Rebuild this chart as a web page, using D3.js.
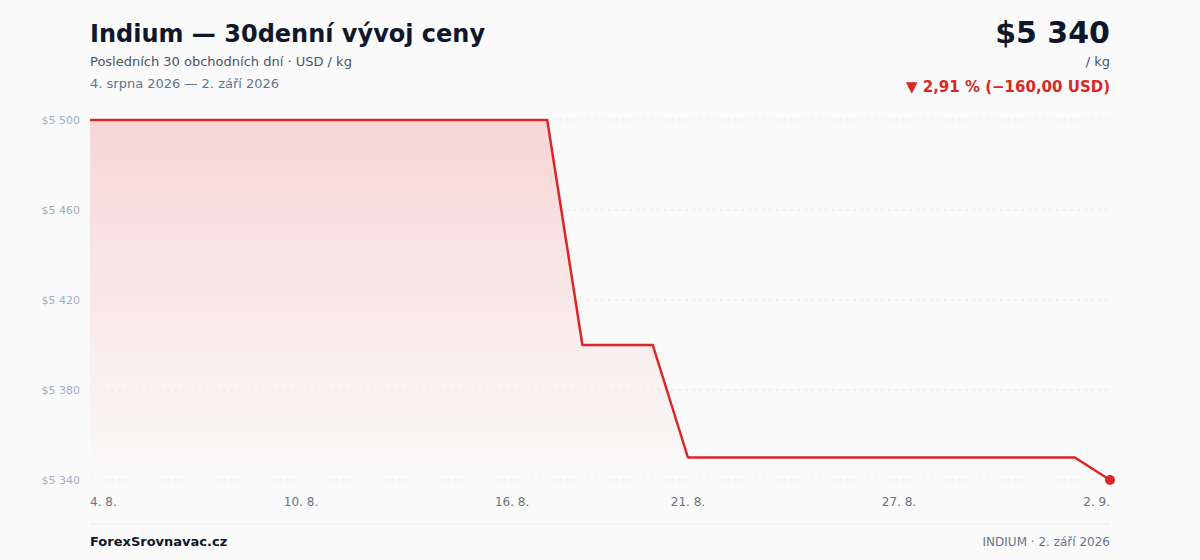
<!DOCTYPE html>
<html>
<head>
<meta charset="utf-8">
<script src="https://cdn.jsdelivr.net/npm/d3@7"></script>
<style>
  body { margin: 0; background: #fafafa; }
  svg { display: block; font-family: "DejaVu Sans", sans-serif; }
</style>
</head>
<body>
<div id="chart"></div>
<script>
// 30 calendar days, 4. 8. 2026 - 2. 9. 2026
const days = ["4. 8.","5. 8.","6. 8.","7. 8.","8. 8.","9. 8.","10. 8.","11. 8.","12. 8.","13. 8.",
  "14. 8.","15. 8.","16. 8.","17. 8.","18. 8.","19. 8.","20. 8.","21. 8.","22. 8.","23. 8.",
  "24. 8.","25. 8.","26. 8.","27. 8.","28. 8.","29. 8.","30. 8.","31. 8.","1. 9.","2. 9."];
const prices = [5500,5500,5500,5500,5500,5500,5500,5500,5500,5500,
  5500,5500,5500,5500,5400,5400,5400,5350,5350,5350,
  5350,5350,5350,5350,5350,5350,5350,5350,5350,5340];
const yTicks = [5340, 5380, 5420, 5460, 5500];
const xTickIdx = [0, 6, 12, 17, 23, 29];

const W = 1200, H = 560;
const margin = { top: 120, right: 90, bottom: 80, left: 90 };
const red = "#dc2626";

const svg = d3.select("#chart").append("svg")
  .attr("width", W).attr("height", H);

const x = d3.scaleLinear().domain([0, days.length - 1]).range([margin.left, W - margin.right]);
const y = d3.scaleLinear().domain([5340, 5500]).range([H - margin.bottom, margin.top]);

const fmt = v => "$" + d3.format(",")(v).replace(/,/g, "\u00a0");

// gradient for the area
const defs = svg.append("defs");
const grad = defs.append("linearGradient").attr("id", "fade")
  .attr("x1", 0).attr("y1", 0).attr("x2", 0).attr("y2", 1);
grad.append("stop").attr("offset", "0%").attr("stop-color", "#ef4444").attr("stop-opacity", 0.2);
grad.append("stop").attr("offset", "100%").attr("stop-color", "#ef4444").attr("stop-opacity", 0);

// area under the line
const area = d3.area()
  .x((d, i) => x(i))
  .y0(y(5340))
  .y1(d => y(d));
svg.append("path").datum(prices)
  .attr("d", area)
  .attr("fill", "url(#fade)");

// grid lines + y labels
const yAxis = svg.append("g");
yTicks.forEach(t => {
  yAxis.append("line")
    .attr("x1", margin.left).attr("x2", W - margin.right)
    .attr("y1", y(t)).attr("y2", y(t))
    .attr("stroke", "#e5e7eb").attr("stroke-dasharray", "3,4");
  yAxis.append("text")
    .attr("x", 80).attr("y", y(t)).attr("dy", "0.35em")
    .attr("text-anchor", "end").attr("font-size", 11).attr("fill", "#a0aec0")
    .text(fmt(t));
});

// the price line
const line = d3.line().x((d, i) => x(i)).y(d => y(d));
svg.append("path").datum(prices)
  .attr("d", line)
  .attr("fill", "none")
  .attr("stroke", red)
  .attr("stroke-width", 2.5)
  .attr("stroke-linejoin", "round");

// last point
svg.append("circle")
  .attr("cx", x(prices.length - 1)).attr("cy", y(prices[prices.length - 1]))
  .attr("r", 5).attr("fill", red);

// x labels
xTickIdx.forEach((idx, k) => {
  svg.append("text")
    .attr("x", x(idx)).attr("y", 506)
    .attr("text-anchor", k === 0 ? "start" : (k === xTickIdx.length - 1 ? "end" : "middle"))
    .attr("font-size", 12).attr("fill", "#6b7280")
    .text(days[idx]);
});

// header
svg.append("text").attr("x", 90).attr("y", 42)
  .attr("font-size", 24).attr("font-weight", "bold").attr("fill", "#0f172a")
  .text("Indium — 30denní vývoj ceny");
svg.append("text").attr("x", 90).attr("y", 66)
  .attr("font-size", 13).attr("fill", "#475569")
  .text("Posledních 30 obchodních dní · USD / kg");
svg.append("text").attr("x", 90).attr("y", 88)
  .attr("font-size", 13).attr("fill", "#64748b")
  .text("4. srpna 2026 — 2. září 2026");

svg.append("text").attr("x", 1110).attr("y", 43)
  .attr("text-anchor", "end").attr("font-size", 30).attr("font-weight", "bold").attr("fill", "#0f172a")
  .text(fmt(prices[prices.length - 1]));
svg.append("text").attr("x", 1110).attr("y", 66)
  .attr("text-anchor", "end").attr("font-size", 13).attr("fill", "#475569")
  .text("/ kg");
svg.append("text").attr("x", 1110).attr("y", 92)
  .attr("text-anchor", "end").attr("font-size", 15).attr("font-weight", "bold").attr("fill", red)
  .text("▼ 2,91 % (−160,00 USD)");

// footer
svg.append("line").attr("x1", 90).attr("x2", 1110).attr("y1", 524).attr("y2", 524)
  .attr("stroke", "#e5e7eb").attr("stroke-width", 1);
svg.append("text").attr("x", 90).attr("y", 546)
  .attr("font-size", 13).attr("font-weight", "bold").attr("fill", "#0f172a")
  .text("ForexSrovnavac.cz");
svg.append("text").attr("x", 1110).attr("y", 546)
  .attr("text-anchor", "end").attr("font-size", 12).attr("fill", "#64748b")
  .text("INDIUM · 2. září 2026");
</script>
</body>
</html>
